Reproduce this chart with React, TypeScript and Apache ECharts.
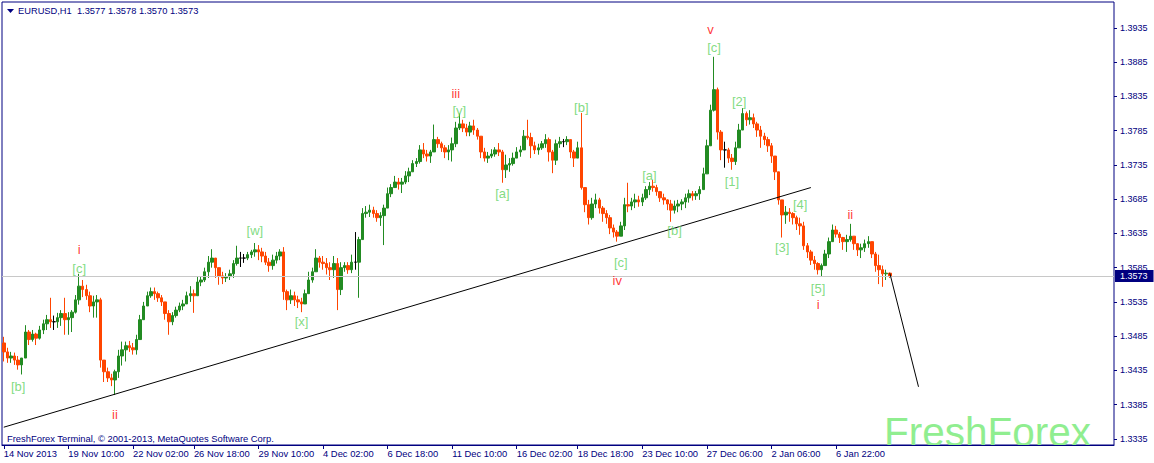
import React, { useEffect, useRef } from 'react';
import * as echarts from 'echarts';

// EURUSD H1, aggregated bars, prices in pips (price x 10000)
const HIGH = [
  13484,13468,13462,13461,13456,13450,13501,13494,13494,13490,
  13500,13509,13516,13541,13515,13519,13523,13541,13520,13523,
  13545,13576,13567,13560,13550,13544,13545,13541,13448,13439,
  13430,13436,13465,13477,13477,13478,13475,13487,13516,13535,
  13550,13556,13556,13550,13545,13535,13523,13520,13528,13534,
  13538,13550,13558,13553,13572,13572,13585,13602,13612,13599,
  13585,13579,13577,13582,13596,13617,13608,13605,13608,13611,
  13621,13618,13614,13608,13599,13604,13608,13612,13615,13553,
  13553,13550,13544,13541,13553,13579,13585,13612,13602,13602,
  13599,13593,13602,13599,13593,13593,13593,13604,13637,13630,
  13672,13675,13677,13674,13669,13666,13677,13702,13707,13719,
  13716,13716,13726,13731,13742,13745,13764,13767,13757,13757,
  13794,13776,13769,13764,13764,13775,13798,13810,13801,13795,
  13798,13801,13789,13775,13760,13754,13758,13761,13767,13757,
  13750,13745,13753,13761,13763,13786,13801,13782,13769,13766,
  13770,13780,13775,13757,13772,13776,13773,13777,13772,13757,
  13769,13811,13702,13684,13687,13693,13687,13675,13669,13662,
  13648,13640,13652,13687,13709,13687,13693,13690,13693,13704,
  13710,13713,13706,13697,13693,13685,13684,13683,13684,13685,
  13693,13699,13697,13697,13704,13731,13772,13823,13893,13848,
  13786,13769,13760,13751,13769,13795,13818,13813,13815,13810,
  13798,13792,13782,13776,13767,13748,13725,13684,13675,13672,
  13666,13661,13658,13652,13621,13611,13602,13593,13591,13611,
  13629,13648,13646,13637,13630,13633,13649,13629,13621,13620,
  13626,13631,13623,13608,13604,13588,13582,13578,
];
const LOW = [
  13448,13446,13446,13443,13436,13429,13453,13472,13477,13472,
  13480,13488,13494,13497,13494,13497,13500,13487,13487,13491,
  13518,13531,13542,13538,13520,13512,13512,13439,13418,13418,
  13412,13399,13424,13442,13448,13462,13458,13458,13480,13509,
  13529,13541,13538,13535,13529,13509,13487,13501,13512,13520,
  13523,13532,13535,13519,13553,13558,13564,13570,13585,13570,
  13560,13561,13564,13567,13570,13588,13586,13592,13596,13599,
  13601,13596,13593,13589,13579,13582,13591,13596,13538,13523,
  13532,13529,13526,13520,13532,13550,13563,13579,13585,13582,
  13575,13567,13570,13523,13545,13579,13576,13577,13582,13541,
  13626,13658,13659,13658,13652,13646,13618,13672,13688,13702,
  13699,13694,13707,13710,13728,13732,13737,13745,13740,13738,
  13754,13760,13754,13745,13742,13740,13761,13786,13783,13777,
  13777,13779,13772,13745,13740,13738,13745,13747,13748,13709,
  13716,13725,13734,13745,13747,13757,13772,13745,13751,13750,
  13757,13760,13740,13723,13735,13760,13761,13764,13745,13732,
  13748,13699,13666,13648,13655,13672,13664,13652,13649,13634,
  13629,13623,13631,13640,13666,13669,13672,13674,13675,13684,
  13691,13696,13690,13681,13677,13669,13652,13664,13666,13669,
  13672,13680,13683,13684,13684,13699,13728,13763,13813,13772,
  13742,13731,13738,13728,13735,13760,13786,13792,13794,13789,
  13776,13760,13764,13754,13738,13713,13677,13629,13649,13652,
  13648,13640,13633,13611,13599,13589,13582,13575,13572,13588,
  13599,13623,13629,13621,13611,13608,13623,13611,13602,13599,
  13608,13614,13599,13579,13561,13557,13567,13570,
];
const CLOSE = [
  13462,13453,13456,13450,13443,13453,13491,13480,13488,13482,
  13494,13503,13509,13506,13506,13512,13518,13509,13512,13520,
  13538,13558,13553,13544,13529,13535,13538,13450,13433,13424,
  13421,13433,13456,13465,13471,13468,13465,13480,13509,13529,
  13544,13550,13547,13541,13535,13518,13506,13515,13523,13529,
  13532,13544,13547,13544,13564,13567,13579,13593,13599,13585,
  13573,13570,13572,13576,13591,13599,13599,13599,13604,13608,
  13611,13608,13602,13593,13588,13596,13602,13608,13550,13538,
  13544,13538,13535,13532,13547,13567,13579,13599,13593,13591,
  13585,13582,13591,13553,13585,13588,13582,13593,13593,13626,
  13664,13666,13669,13664,13658,13661,13672,13693,13702,13710,
  13707,13710,13719,13725,13737,13740,13757,13751,13748,13754,
  13772,13766,13760,13754,13757,13766,13789,13795,13789,13783,
  13792,13786,13777,13754,13745,13748,13751,13757,13754,13728,
  13735,13737,13745,13754,13757,13777,13775,13763,13757,13760,
  13766,13772,13754,13742,13766,13769,13769,13772,13754,13745,
  13760,13702,13677,13658,13678,13684,13672,13664,13658,13643,
  13637,13631,13646,13677,13675,13681,13684,13681,13687,13699,
  13704,13702,13696,13687,13684,13678,13669,13675,13678,13681,
  13687,13693,13690,13693,13699,13722,13763,13815,13845,13783,
  13757,13757,13745,13740,13760,13786,13810,13801,13804,13795,
  13786,13777,13772,13763,13748,13725,13684,13662,13666,13664,
  13658,13649,13646,13617,13608,13596,13591,13582,13588,13605,
  13623,13640,13634,13629,13623,13626,13631,13620,13611,13614,
  13620,13623,13605,13588,13582,13576,13577,13573,
];
const FIRST_OPEN = 13475;

const SYMBOL = 'EURUSD,H1';
const TICK_LABELS = [
  '14 Nov 2013', '19 Nov 10:00', '22 Nov 02:00', '26 Nov 18:00', '29 Nov 10:00',
  '4 Dec 02:00', '6 Dec 18:00', '11 Dec 10:00', '16 Dec 02:00', '18 Dec 18:00',
  '23 Dec 10:00', '27 Dec 06:00', '2 Jan 06:00', '6 Jan 22:00',
];
const TICK_BARS = [0, 18, 36, 53, 71, 89, 107, 125, 143, 160, 178, 196, 214, 232];
const SLOTS = 310;

const PRICE_TICKS = [1.3335, 1.3385, 1.3435, 1.3485, 1.3535, 1.3585, 1.3635, 1.3685, 1.3735, 1.3785, 1.3835, 1.3885, 1.3935];
const PRICE_MIN = 1.3326;
const PRICE_MAX = 1.3973;
const CURRENT_PRICE = 1.3573;

const TREND_LINE = [[0, 1.3352], [225, 1.3702]];
const PROJECTION_LINE = [[247, 1.3577], [255, 1.3411]];

const WAVE_TEXT = ['[b]', '[c]', 'i', 'ii', '[w]', '[x]', 'iii', '[y]', '[a]', '[b]', '[a]', '[b]', '[c]', 'iv', 'v', '[c]', '[2]', '[1]', '[4]', '[3]', 'ii', '[5]', 'i'];
const WAVE_BAR = [4, 21, 21, 31, 70, 83, 126, 127, 139, 161, 180, 187, 172, 171, 197, 198, 205, 203, 222, 217, 236, 227, 227];
const WAVE_PRICE = [1.3411, 1.3584, 1.3612, 1.3370, 1.3640, 1.3506, 1.3840, 1.3814, 1.3694, 1.3819, 1.3719, 1.3639, 1.3592, 1.3566, 1.3933, 1.3907, 1.3828, 1.3711, 1.3677, 1.3614, 1.3663, 1.3554, 1.3531];

const NAVY = '#000080';
const FONT = '"Liberation Sans", Arial, sans-serif';

export default function App() {
  const ref = useRef<HTMLDivElement>(null);

  useEffect(() => {
    if (!ref.current) return;
    const chart = echarts.init(ref.current, undefined, { renderer: 'svg' });

    const ohlc = CLOSE.map((c, i) => {
      const o = i === 0 ? FIRST_OPEN : CLOSE[i - 1];
      const h = Math.max(HIGH[i], o, c);
      const l = Math.min(LOW[i], o, c);
      return [o / 10000, c / 10000, l / 10000, h / 10000];
    });
    const last = ohlc[ohlc.length - 1];
    const title = `${SYMBOL}\u00A0\u00A0${last[0].toFixed(4)} ${last[3].toFixed(4)} ${last[2].toFixed(4)} ${last[1].toFixed(4)}`;

    const categories = Array.from({ length: SLOTS }, (_, i) => {
      const k = TICK_BARS.indexOf(i);
      return k >= 0 ? TICK_LABELS[k] : 'bar' + i;
    });
    const showTick = (index: number) => TICK_BARS.indexOf(index) >= 0;

    const waveData = WAVE_TEXT.map((t, i) => ({
      value: [WAVE_BAR[i], WAVE_PRICE[i]],
      label: { formatter: t, color: t.startsWith('[') ? '#62d262' : '#ff0000' },
    }));

    chart.setOption({
      animation: false,
      backgroundColor: '#ffffff',
      grid: {
        left: 2, right: 40, top: 2, bottom: 18,
        show: true, borderColor: NAVY, borderWidth: 1, backgroundColor: '#ffffff',
      },
      xAxis: {
        type: 'category',
        data: categories,
        boundaryGap: true,
        axisLine: { show: true, lineStyle: { color: NAVY, width: 1 } },
        axisTick: { show: true, alignWithLabel: true, interval: showTick, length: 4, lineStyle: { color: NAVY } },
        axisLabel: {
          interval: showTick, align: 'left', margin: 4,
          color: NAVY, fontSize: 9.4, fontFamily: FONT,
        },
        splitLine: { show: false },
      },
      yAxis: {
        type: 'value',
        position: 'right',
        min: PRICE_MIN,
        max: PRICE_MAX,
        scale: true,
        axisLine: { show: false },
        splitLine: { show: false },
        axisTick: { show: true, length: 3, lineStyle: { color: NAVY }, customValues: PRICE_TICKS },
        axisLabel: {
          customValues: PRICE_TICKS,
          formatter: (v: number) => v.toFixed(4),
          margin: 6, color: NAVY, fontSize: 9, fontFamily: FONT,
        },
      },
      graphic: [
        { type: 'polygon', shape: { points: [[7, 9], [14, 9], [10.5, 13]] }, style: { fill: NAVY } },
        {
          type: 'text', x: 18, y: 11,
          style: { text: title, fill: NAVY, font: `9.3px ${FONT}`, verticalAlign: 'middle', align: 'left' },
        },
        {
          type: 'text', x: 7, y: 438,
          style: {
            text: 'FreshForex Terminal, \u00A9 2001-2013, MetaQuotes Software Corp.',
            fill: NAVY, font: `9.4px ${FONT}`, verticalAlign: 'middle', align: 'left',
          },
        },
        {
          type: 'text', x: 884, y: 432,
          style: { text: 'FreshForex', fill: '#90EE90', font: `40.5px ${FONT}`, verticalAlign: 'middle', align: 'left' },
        },
      ],
      series: [
        {
          type: 'candlestick',
          data: ohlc,
          barWidth: 3,
          silent: true,
          itemStyle: {
            color: '#228B22', color0: '#FF4500',
            borderColor: '#228B22', borderColor0: '#FF4500',
            borderColorDoji: '#000000', borderWidth: 1,
          },
          markLine: {
            silent: true,
            symbol: ['none', 'none'],
            precision: 4,
            animation: false,
            data: [
              {
                yAxis: CURRENT_PRICE,
                lineStyle: { color: '#c8c8c8', width: 1, type: 'solid' },
                label: {
                  show: true, position: 'end', distance: 1,
                  formatter: CURRENT_PRICE.toFixed(4),
                  color: '#ffffff', backgroundColor: NAVY,
                  padding: [2, 6, 1, 5], fontSize: 9, fontFamily: FONT,
                },
              },
              [
                { coord: TREND_LINE[0], lineStyle: { color: '#000000', width: 1, type: 'solid' }, label: { show: false } },
                { coord: TREND_LINE[1] },
              ],
              [
                { coord: PROJECTION_LINE[0], lineStyle: { color: '#000000', width: 1, type: 'solid' }, label: { show: false } },
                { coord: PROJECTION_LINE[1] },
              ],
            ],
          },
        },
        {
          type: 'scatter',
          data: waveData,
          symbolSize: 1,
          silent: true,
          itemStyle: { color: 'rgba(0,0,0,0)' },
          label: { show: true, position: 'inside', fontSize: 13, fontFamily: FONT },
          z: 6,
        },
      ],
    });

    return () => chart.dispose();
  }, []);

  return (
    <div
      ref={ref}
      style={{ position: 'fixed', left: 0, top: 0, width: 1154, height: 463, background: '#ffffff' }}
    />
  );
}
